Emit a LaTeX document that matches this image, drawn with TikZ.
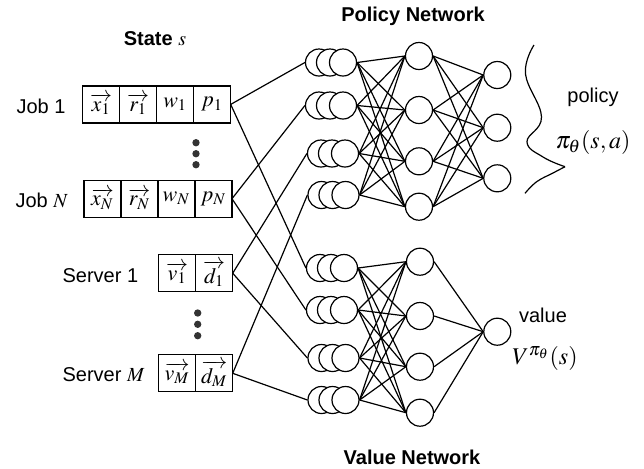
\documentclass[tikz,border=0pt]{standalone}
\usepackage{amsmath,amssymb}
\usepackage{mathptmx}
\usepackage[no-math]{fontspec}
\setsansfont{Liberation Sans}
\usepackage{tikz}
\usetikzlibrary{positioning}

\tikzset{
  cell/.style={draw,rectangle,minimum width=18.5pt,minimum height=18.5pt,inner sep=0pt,outer sep=0pt,font=\fontsize{11}{13}\selectfont},
  neuron/.style={draw,circle,fill=white,minimum size=13.5pt,inner sep=0pt},
  dot/.style={circle,fill=black!80,inner sep=1.3pt},
  title/.style={font=\sffamily\bfseries},
  lbl/.style={font=\sffamily,anchor=west,inner sep=0pt},
  every path/.style={line width=0.6pt}
}

\begin{document}
\begin{tikzpicture}[x=0.5pt,y=-0.5pt]
\useasboundingbox (0,0) rectangle (644,468);

\node [title] (state) at (155,39) {State \(s\)};
\node [title] (ptitle) at (413,16) {Policy Network};
\node [title] (vtitle) at (412,457) {Value Network};

\node [lbl] (job1) at (16,106) {Job 1};
\node [lbl] (jobn) at (15,200) {Job \(N\)};
\node [lbl] (srv1) at (62,276) {Server 1};
\node [lbl] (srvm) at (62,375) {Server \(M\)};

\node [cell] (j1x) at (101.2,104.4) {\(\overrightarrow{x_1}\)};
\node [cell,right=0pt of j1x] (j1r) {\(\overrightarrow{r_1}\)};
\node [cell,right=0pt of j1r] (j1w) {\(w_1\)};
\node [cell,right=0pt of j1w] (j1p) {\(p_1\)};
\node [cell] (jnx) at (102.5,198.7) {\(\overrightarrow{x_N}\)};
\node [cell,right=0pt of jnx] (jnr) {\(\overrightarrow{r_N}\)};
\node [cell,right=0pt of jnr] (jnw) {\(w_N\)};
\node [cell,right=0pt of jnw] (jnp) {\(p_N\)};
\node [cell] (s1v) at (177.2,273.2) {\(\overrightarrow{v_1}\)};
\node [cell,right=0pt of s1v] (s1d) {\(\overrightarrow{d_1}\)};
\node [cell] (smv) at (177.2,373.3) {\(\overrightarrow{v_M}\)};
\node [cell,right=0pt of smv] (smd) {\(\overrightarrow{d_M}\)};

\foreach \i/\y in {1/142.7,2/153.7,3/164.7}
  \node [dot] (jd\i) at (196,\y) {};
\foreach \i/\y in {1/313,2/324.3,3/335.7}
  \node [dot] (sd\i) at (197.7,\y) {};

% input clusters
\foreach \n/\x/\y in {1/319/62.5,2/319/105.5,3/321/153.5,4/321.5/195}{
  \node [neuron] (pa\n) at (\x,\y) {};
  \node [neuron] (pb\n) at (\x+11,\y) {};
  \node [neuron] (p\n) at (\x+24,\y) {};
}
\foreach \n/\x/\y in {1/320/268,2/320/310,3/321.5/358,4/321.5/400}{
  \node [neuron] (va\n) at (\x,\y) {};
  \node [neuron] (vb\n) at (\x+11,\y) {};
  \node [neuron] (v\n) at (\x+24,\y) {};
}

% hidden and output layers
\foreach \n/\y in {1/56,2/110,3/161.3,4/206.7}
  \node [neuron] (ph\n) at (419,\y) {};
\foreach \n/\y in {1/261.7,2/316,3/366.7,4/412.7}
  \node [neuron] (vh\n) at (420,\y) {};
\foreach \n/\y in {1/75,2/127.7,3/178.3}
  \node [neuron] (po\n) at (497.3,\y) {};
\node [neuron] (vo) at (497.3,331.7) {};

\foreach \i in {1,...,4}
  \foreach \j in {1,...,4}{
    \draw (p\i.east) -- (ph\j.west);
    \draw (v\i.east) -- (vh\j.west);
  }
\foreach \j in {1,...,4}{
  \foreach \k in {1,2,3}
    \draw (ph\j.east) -- (po\k.west);
  \draw (vh\j.east) -- (vo.west);
}

\draw (j1p.east) -- (pa1.west);
\draw (j1p.east) -- (va1.west);
\draw (jnp.east) -- (pa2.west);
\draw (jnp.east) -- (va2.west);
\draw (s1d.east) -- (pa3.west);
\draw (s1d.east) -- (va3.west);
\draw (smd.east) -- (pa4.west);
\draw (smd.east) -- (va4.west);

% distribution over actions
\draw plot [smooth,tension=0.7] coordinates {(534,45) (525.5,74) (541.5,117) (527,141.7) (543,157) (565,166.7)};
\draw plot [smooth,tension=0.7] coordinates {(565,166.7) (553,173) (536.7,181.7) (525,193.3)};

\node [font=\sffamily] (pol) at (593,97) {policy};
\node [font=\large] (pif) at (593,142) {\(\pi_\theta(s,a)\)};
\node [font=\sffamily] (val) at (543,315) {value};
\node [font=\large] (vf) at (545,358) {\(V^{\pi_\theta}(s)\)};
\end{tikzpicture}
\end{document}
